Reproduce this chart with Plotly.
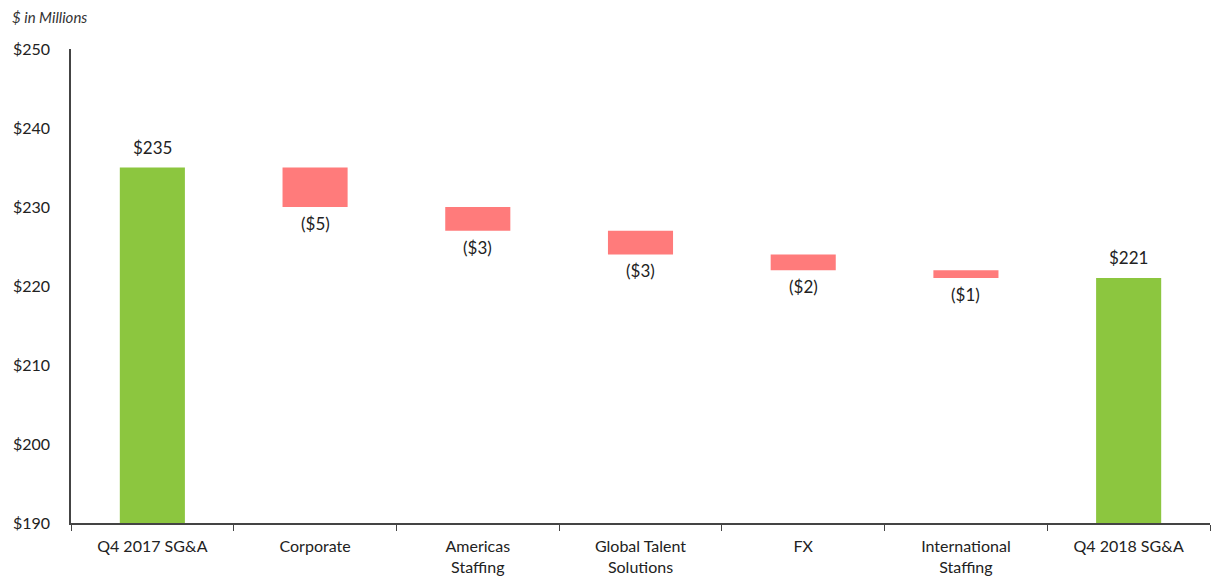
import plotly.graph_objects as go

categories = ["Q4 2017 SG&A", "Corporate", "Americas<br>Staffing", "Global Talent<br>Solutions",
              "FX", "International<br>Staffing", "Q4 2018 SG&A"]
changes = [235, -5, -3, -3, -2, -1, 221]
kinds = ["total", "delta", "delta", "delta", "delta", "delta", "total"]
labels = ["$235", "($5)", "($3)", "($3)", "($2)", "($1)", "$221"]
y_ticks = [190, 200, 210, 220, 230, 240, 250]

GREEN = "#8cc63f"
RED = "#ff7b7b"
FONT = "Lato, 'Open Sans', sans-serif"

bases, heights, colors = [], [], []
running = 0
for k, v in zip(kinds, changes):
    if k == "total":
        bases.append(0)
        heights.append(v)
        running = v
        colors.append(GREEN)
    else:
        top = running
        running = running + v
        bases.append(running)
        heights.append(top - running)
        colors.append(RED)

fig = go.Figure()
fig.add_trace(go.Bar(x=categories, y=heights, base=bases, marker_color=colors,
                     marker_line_width=0, width=0.4, hoverinfo="skip"))

for cat, k, b, h, lab in zip(categories, kinds, bases, heights, labels):
    if k == "total":
        fig.add_annotation(x=cat, y=b + h, text=lab, showarrow=False, yanchor="bottom",
                           yshift=8, font=dict(size=17, color="#222", family=FONT))
    else:
        fig.add_annotation(x=cat, y=b, text=lab, showarrow=False, yanchor="top",
                           yshift=-4, font=dict(size=17, color="#222", family=FONT))

fig.add_annotation(xref="paper", yref="paper", x=-0.0536, y=1.067, xanchor="left", yanchor="middle",
                   text="<i>$ in Millions</i>", showarrow=False,
                   font=dict(size=15, color="#333", family=FONT))

fig.update_layout(
    width=1215, height=581,
    margin=dict(l=71, r=5, t=49, b=56),
    paper_bgcolor="white", plot_bgcolor="white",
    showlegend=False, bargap=0.6,
    font=dict(family=FONT, size=16, color="#222"),
)
fig.update_xaxes(showline=True, linecolor="#444", linewidth=1.5, ticks="outside",
                 tickson="boundaries", ticklen=6, tickcolor="#444", showgrid=False,
                 tickfont=dict(size=16, color="#222"), ticklabelstandoff=8)
fig.update_yaxes(range=[190, 250], tickvals=y_ticks, ticktext=[f"${v}" for v in y_ticks],
                 showline=True, linecolor="#444", linewidth=1.5, showgrid=False, zeroline=False,
                 ticks="", tickfont=dict(size=16, color="#222"), ticklabelstandoff=16)

fig.write_html("out.html")
